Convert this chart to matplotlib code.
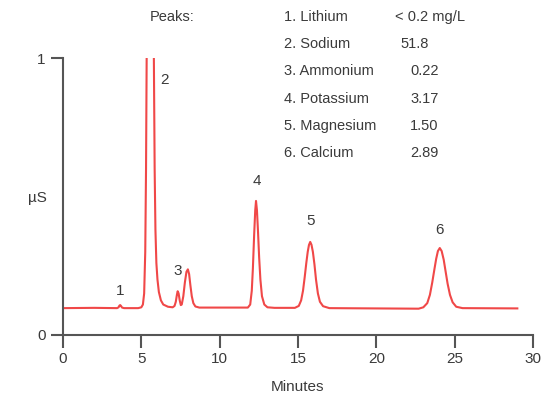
import matplotlib.pyplot as plt

plt.rcParams['font.family'] = ['Liberation Sans Narrow', 'Liberation Sans', 'DejaVu Sans']

# trace (minutes, µS)
minutes = [0.0, 2.0, 3.45, 3.55, 3.6, 3.65, 3.7, 3.77, 3.9,
           4.8, 5.0, 5.1, 5.18, 5.25, 5.3, 5.34, 5.45, 5.57, 5.7, 5.8, 5.85, 5.9, 5.96,
           6.03, 6.12, 6.25, 6.4, 6.7,
           7.0, 7.12, 7.2, 7.27, 7.32, 7.38, 7.45, 7.52, 7.58, 7.68, 7.78, 7.88, 7.97,
           8.05, 8.13, 8.22, 8.32, 8.45, 8.7,
           11.8, 11.95, 12.05, 12.12, 12.2, 12.27, 12.32, 12.38, 12.45, 12.52, 12.6,
           12.7, 12.85, 13.05, 13.5,
           14.8, 15.05, 15.2, 15.32, 15.43, 15.53, 15.62, 15.7, 15.78, 15.86, 15.95,
           16.05, 16.15, 16.27, 16.4, 16.6, 17.0,
           22.7, 23.0, 23.25, 23.42, 23.57, 23.7, 23.82, 23.93, 24.05, 24.17, 24.3,
           24.42, 24.55, 24.7, 24.87, 25.1, 25.5, 29.0]
signal = [0.097, 0.098, 0.097, 0.100, 0.106, 0.108, 0.105, 0.099, 0.097,
          0.097, 0.100, 0.110, 0.150, 0.300, 0.600, 1.0, 2.5, 3.0, 2.0, 1.0, 0.60, 0.38, 0.26,
          0.200, 0.155, 0.125, 0.110, 0.102,
          0.100, 0.105, 0.120, 0.145, 0.158, 0.150, 0.125, 0.108, 0.110, 0.140, 0.190, 0.228, 0.237,
          0.220, 0.180, 0.140, 0.115, 0.103, 0.099,
          0.099, 0.110, 0.160, 0.240, 0.360, 0.450, 0.484, 0.450, 0.370, 0.280, 0.200,
          0.140, 0.110, 0.100, 0.098,
          0.098, 0.105, 0.125, 0.160, 0.210, 0.260, 0.300, 0.325, 0.336, 0.326, 0.300,
          0.255, 0.200, 0.150, 0.120, 0.104, 0.097,
          0.095, 0.100, 0.115, 0.145, 0.190, 0.235, 0.275, 0.303, 0.314, 0.303, 0.272,
          0.230, 0.185, 0.145, 0.118, 0.102, 0.097, 0.096]

peak_labels = ['1', '2', '3', '4', '5', '6']
label_x = [3.64, 6.5, 7.34, 12.4, 15.8, 24.0]
label_y = [0.135, 0.895, 0.205, 0.53, 0.385, 0.353]

analytes = ['1. Lithium', '2. Sodium', '3. Ammonium', '4. Potassium', '5. Magnesium', '6. Calcium']
amounts = ['< 0.2 mg/L', '51.8', '0.22', '3.17', '1.50', '2.89']
amount_x = [395, 400, 410, 410, 410, 410]

txt = '#3a3a3a'
fig = plt.figure(figsize=(5.54, 4.0), dpi=100)
ax = fig.add_axes([63 / 554, 65 / 400, 470 / 554, 277 / 400])
ax.plot(minutes, signal, color='#f04848', lw=1.5)
ax.set_xlim(0, 30)
ax.set_ylim(0, 1)
ax.set_xticks([0, 5, 10, 15, 20, 25, 30])
ax.set_yticks([0, 1])
ax.spines['top'].set_visible(False)
ax.spines['right'].set_visible(False)
for s in ['left', 'bottom']:
    ax.spines[s].set_color('#555555')
    ax.spines[s].set_linewidth(1.5)
ax.tick_params(direction='out', length=9, width=1.5, color='#555555', labelsize=11, labelcolor=txt)
ax.set_xlabel('Minutes', fontsize=11, color=txt, labelpad=10)
ax.set_ylabel('µS', fontsize=11, color=txt, rotation=0, labelpad=12)
ax.yaxis.set_label_coords(-0.055, 0.47)

for lab, x, y in zip(peak_labels, label_x, label_y):
    ax.text(x, y, lab, ha='center', va='bottom', fontsize=11, color=txt)

fig.text(150 / 554, 1 - 17 / 400, 'Peaks:', ha='left', va='center', fontsize=10.5, color=txt)
for i, (name, amt) in enumerate(zip(analytes, amounts)):
    y = 1 - (17 + i * 27.2) / 400
    fig.text(284 / 554, y, name, ha='left', va='center', fontsize=10.5, color=txt)
    fig.text(amount_x[i] / 554, y, amt, ha='left', va='center', fontsize=10.5, color=txt)

fig.savefig('out.png', dpi=100)
